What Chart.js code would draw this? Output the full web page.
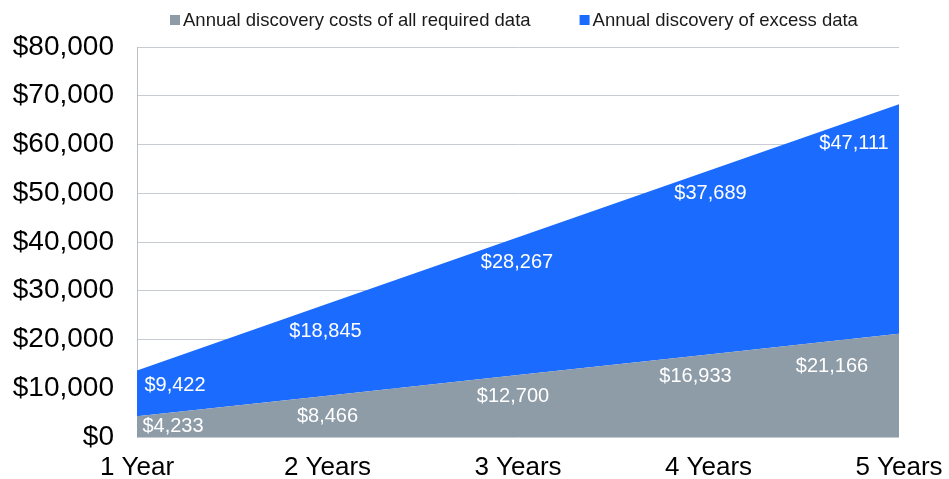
<!DOCTYPE html>
<html>
<head>
<meta charset="utf-8">
<script src="https://cdn.jsdelivr.net/npm/chart.js@4.4.1/dist/chart.umd.min.js"></script>
<style>
  html, body { margin: 0; padding: 0; background: #fff; }
  canvas { display: block; }
</style>
</head>
<body>
<canvas id="costChart" width="949" height="479"></canvas>
<script>
// ---- data ----
const years = ["1 Year", "2 Years", "3 Years", "4 Years", "5 Years"];
const requiredCosts = [4233, 8466, 12700, 16933, 21166];
const excessCosts = [9422, 18845, 28267, 37689, 47111];
const yMax = 80000;
const yStep = 10000;

const GRAY = "#8e9ca8";
const BLUE = "#1c6bff";
const FONT = "'Liberation Sans', Arial, sans-serif";

// nudges (px) for the value labels, relative to each point's top edge
const labelNudge = [
  [[36, 10], [0, 21], [-5, 21], [-13, 22], [-67, 33]],
  [[38, 15], [-2, 28], [-1, 25], [2, 23], [-45, 39]]
];

function money(v) {
  return "$" + Number(v).toLocaleString("en-US");
}

// draws the white "$x,xxx" labels inside the areas
const valueLabels = {
  id: "valueLabels",
  afterDatasetsDraw(chart) {
    const ctx = chart.ctx;
    ctx.save();
    ctx.fillStyle = "#ffffff";
    ctx.font = "20px " + FONT;
    ctx.textAlign = "center";
    ctx.textBaseline = "middle";
    chart.data.datasets.forEach((ds, i) => {
      const meta = chart.getDatasetMeta(i);
      meta.data.forEach((pt, j) => {
        const n = labelNudge[i][j];
        ctx.fillText(money(ds.data[j]), pt.x + n[0], pt.y + n[1]);
      });
    });
    ctx.restore();
  }
};

// small legend above the plot: square, tight gap, text; wide gap between items
const topLegend = {
  id: "topLegend",
  afterDraw(chart) {
    const ctx = chart.ctx;
    ctx.save();
    ctx.font = "18.5px " + FONT;
    ctx.textBaseline = "middle";
    ctx.textAlign = "left";
    let x = 170;
    const y = 20;
    chart.data.datasets.forEach(ds => {
      ctx.fillStyle = ds.backgroundColor;
      ctx.fillRect(x, y - 5, 10, 10);
      ctx.fillStyle = "#1a1a1a";
      ctx.fillText(ds.label, x + 13, y + 1);
      x += 13 + ctx.measureText(ds.label).width + 49;
    });
    ctx.restore();
  }
};

const ctx = document.getElementById("costChart").getContext("2d");
new Chart(ctx, {
  type: "line",
  data: {
    labels: years,
    datasets: [
      {
        label: "Annual discovery costs of all required data",
        data: requiredCosts,
        backgroundColor: GRAY,
        borderColor: GRAY,
        borderWidth: 0,
        pointRadius: 0,
        fill: "origin"
      },
      {
        label: "Annual discovery of excess data",
        data: excessCosts,
        backgroundColor: BLUE,
        borderColor: BLUE,
        borderWidth: 0,
        pointRadius: 0,
        fill: "-1"
      }
    ]
  },
  options: {
    responsive: false,
    animation: false,
    layout: { padding: { left: 0, right: 50, top: 47, bottom: 0 } },
    plugins: {
      tooltip: { enabled: false },
      legend: { display: false }
    },
    scales: {
      x: {
        offset: false,
        grid: { display: false },
        border: { display: false },
        ticks: {
          color: "#000",
          padding: 7,
          maxRotation: 0,
          font: { family: FONT, size: 26 }
        },
        afterFit(scale) {
          scale.height = 42;
          scale.paddingLeft = 0;
          scale.paddingRight = 0;
        }
      },
      y: {
        stacked: true,
        min: 0,
        max: yMax,
        grid: { color: "#c6ccd2", lineWidth: 1, drawTicks: false },
        border: { display: true, color: "#b9c0c7" },
        ticks: {
          stepSize: yStep,
          color: "#000",
          padding: 23,
          font: { family: FONT, size: 28 },
          callback: v => money(v)
        },
        afterFit(scale) { scale.width = 137; }
      }
    }
  },
  plugins: [valueLabels, topLegend]
});
</script>
</body>
</html>
